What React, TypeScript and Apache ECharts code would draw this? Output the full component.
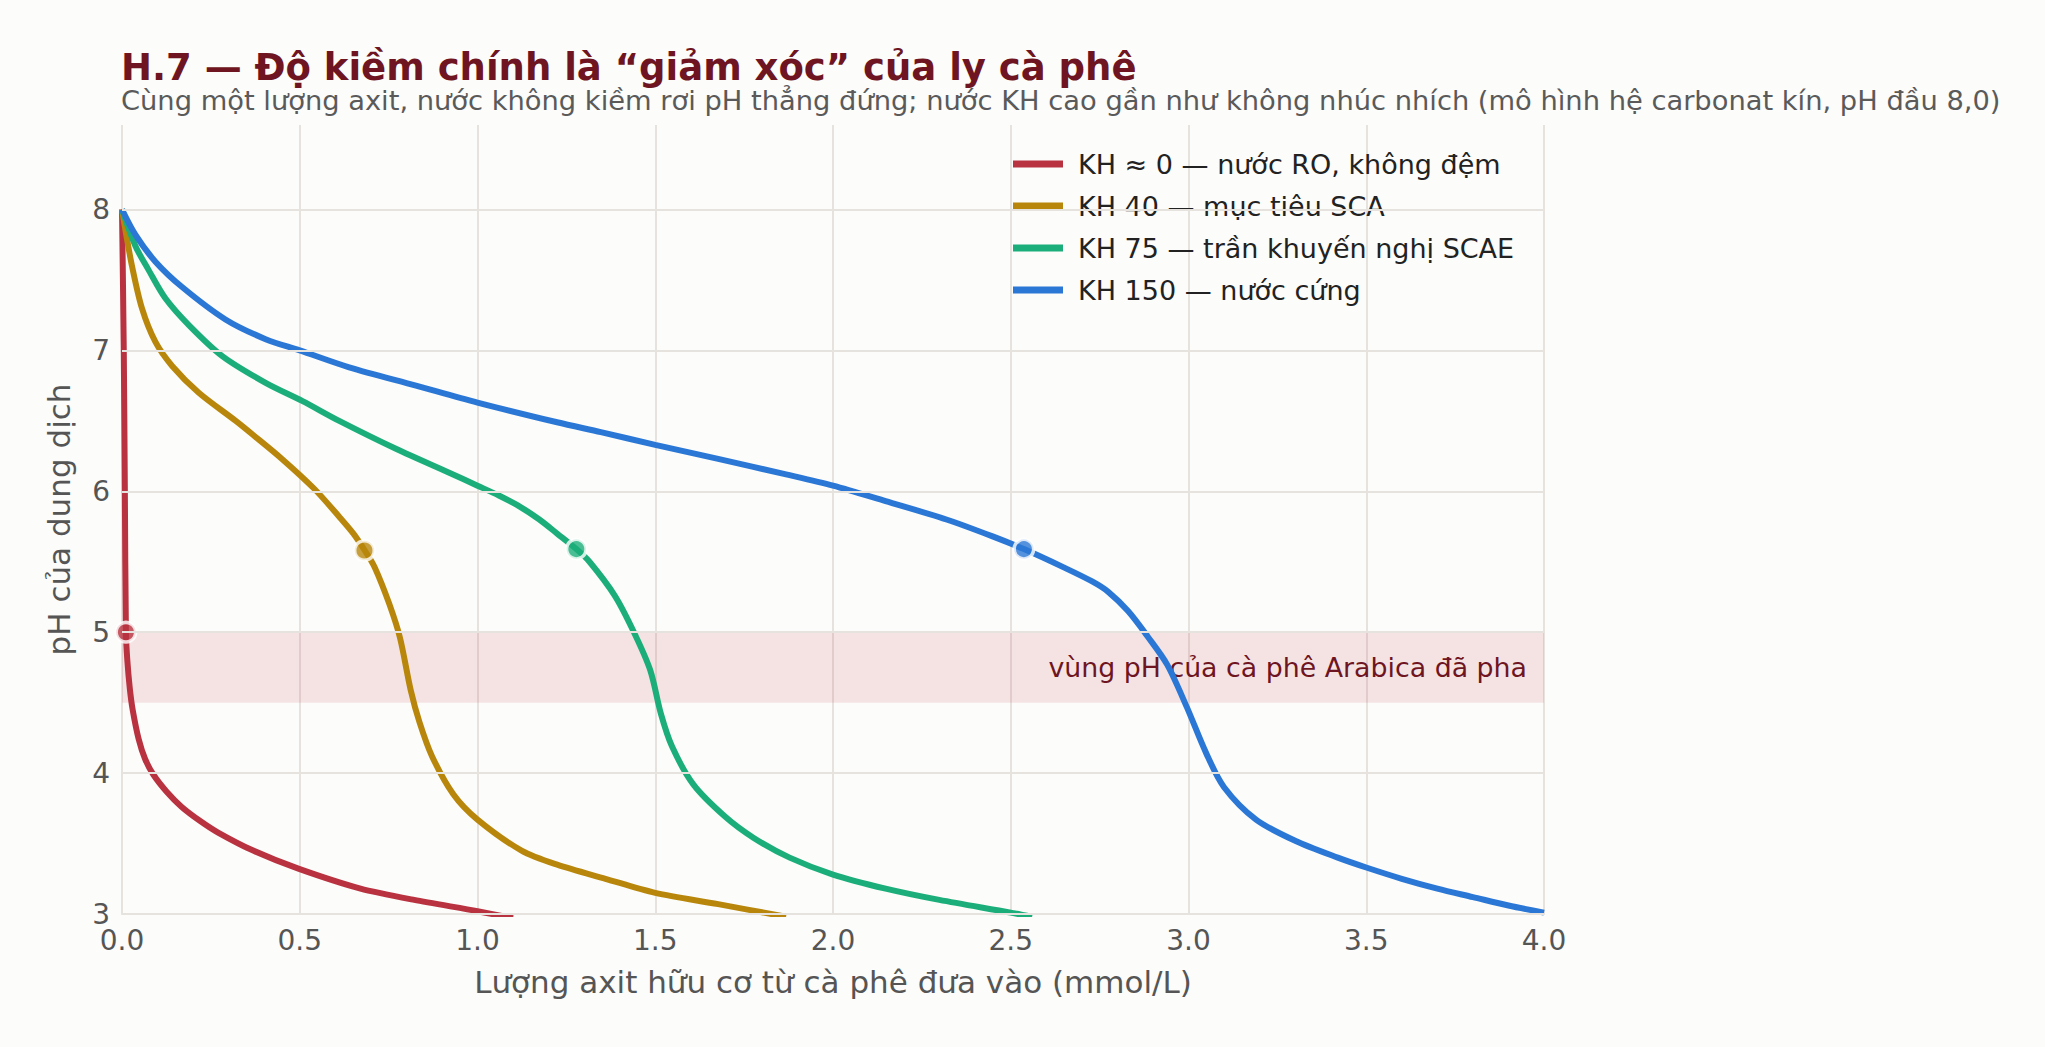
import React, { useEffect, useRef } from 'react';
import * as echarts from 'echarts';

// tên và màu bốn đường chuẩn độ
const seriesNames = [
  'KH ≈ 0 — nước RO, không đệm',
  'KH 40 — mục tiêu SCA',
  'KH 75 — trần khuyến nghị SCAE',
  'KH 150 — nước cứng',
];
const seriesColors = ['#B83240', '#B8860B', '#1BAE7B', '#2A77D6'];

// lượng axit (mmol/L) và pH
const roX = [0, 0.005, 0.008, 0.011, 0.015, 0.022, 0.03, 0.047, 0.065, 0.088, 0.125, 0.168, 0.22, 0.269, 0.369, 0.498, 0.671, 0.822, 1.0, 1.1];
const roPH = [8.0, 7.0, 6.0, 5.0, 4.8, 4.6, 4.45, 4.24, 4.1, 3.99, 3.87, 3.76, 3.66, 3.58, 3.45, 3.32, 3.18, 3.1, 3.02, 2.97];

const kh40X = [0, 0.012, 0.028, 0.056, 0.094, 0.141, 0.216, 0.32, 0.369, 0.45, 0.54, 0.611, 0.651, 0.683, 0.711, 0.752, 0.782, 0.812, 0.837, 0.872, 0.932, 1.0, 1.124, 1.224, 1.36, 1.5, 1.677, 1.868];
const kh40PH = [8.0, 7.82, 7.6, 7.3, 7.06, 6.89, 6.7, 6.5, 6.4, 6.23, 6.02, 5.82, 5.7, 5.58, 5.46, 5.2, 4.96, 4.59, 4.36, 4.12, 3.85, 3.67, 3.45, 3.35, 3.25, 3.15, 3.07, 2.98];

const kh75X = [0, 0.038, 0.075, 0.122, 0.188, 0.282, 0.404, 0.508, 0.611, 0.772, 0.922, 1.0, 1.06, 1.12, 1.174, 1.224, 1.278, 1.315, 1.386, 1.44, 1.486, 1.516, 1.547, 1.607, 1.697, 1.777, 1.878, 2.0, 2.148, 2.299, 2.5, 2.56];
const kh75PH = [8.0, 7.74, 7.57, 7.37, 7.18, 6.96, 6.77, 6.64, 6.5, 6.3, 6.13, 6.04, 5.97, 5.89, 5.8, 5.7, 5.59, 5.5, 5.26, 5.0, 4.73, 4.42, 4.19, 3.92, 3.69, 3.54, 3.4, 3.28, 3.18, 3.1, 3.01, 2.98];

const kh150X = [0, 0.038, 0.094, 0.169, 0.291, 0.404, 0.5, 0.639, 0.827, 1.0, 1.224, 1.347, 1.5, 1.677, 1.868, 2.0, 2.148, 2.319, 2.449, 2.537, 2.649, 2.729, 2.775, 2.83, 2.885, 2.94, 2.995, 3.05, 3.1, 3.19, 3.3, 3.42, 3.5, 3.6, 3.7, 3.8, 3.9, 4.0];
const kh150PH = [8.0, 7.82, 7.63, 7.45, 7.22, 7.08, 7.0, 6.88, 6.75, 6.63, 6.49, 6.42, 6.33, 6.23, 6.12, 6.04, 5.93, 5.8, 5.68, 5.59, 5.46, 5.36, 5.285, 5.15, 4.97, 4.77, 4.47, 4.14, 3.9, 3.67, 3.52, 3.4, 3.33, 3.25, 3.18, 3.12, 3.06, 3.01];

// điểm đánh dấu trên từng đường
const markerX = [0.011, 0.682, 1.278, 2.537];
const markerPH = [5.0, 5.58, 5.59, 5.59];

// trục
const phTicks = [3, 4, 5, 6, 7, 8];
const bandRange = [4.5, 5.0];
const bandLabel = 'vùng pH của cà phê Arabica đã pha';

const titleText = 'H.7 — Độ kiềm chính là “giảm xóc” của ly cà phê';
const subtitleText = 'Cùng một lượng axit, nước không kiềm rơi pH thẳng đứng; nước KH cao gần như không nhúc nhích (mô hình hệ carbonat kín, pH đầu 8,0)';

const FONT = '"DejaVu Sans", sans-serif';
const GRID = '#E6E2DD';

const App: React.FC = () => {
  const chartRef = useRef<HTMLDivElement>(null);

  useEffect(() => {
    if (!chartRef.current) return;
    const chart = echarts.init(chartRef.current, null, { renderer: 'svg' });

    const curves = [
      [roX, roPH],
      [kh40X, kh40PH],
      [kh75X, kh75PH],
      [kh150X, kh150PH],
    ];

    chart.setOption({
      animation: false,
      backgroundColor: '#FCFCFA',
      textStyle: { fontFamily: FONT },
      grid: { left: 122, right: 501, top: 125, bottom: 133 },
      graphic: [
        {
          type: 'text',
          x: 121,
          y: 67,
          style: {
            text: titleText,
            fontFamily: FONT,
            fontSize: 37,
            fontWeight: 'bold',
            fill: '#6E1521',
            verticalAlign: 'middle',
          },
        },
        {
          type: 'text',
          x: 121,
          y: 100,
          style: {
            text: subtitleText,
            fontFamily: FONT,
            fontSize: 27.3,
            fill: '#5A5A5A',
            verticalAlign: 'middle',
          },
        },
      ],
      legend: {
        data: seriesNames,
        orient: 'vertical',
        left: 1008,
        top: 145,
        icon: 'rect',
        itemWidth: 50,
        itemHeight: 7,
        itemGap: 14,
        selectedMode: false,
        textStyle: { fontFamily: FONT, fontSize: 27, color: '#222', lineHeight: 28, padding: [0, 0, 0, 10] },
      },
      xAxis: {
        type: 'value',
        min: 0,
        max: 4,
        interval: 0.5,
        name: 'Lượng axit hữu cơ từ cà phê đưa vào (mmol/L)',
        nameLocation: 'middle',
        nameGap: 52,
        nameTextStyle: { fontFamily: FONT, fontSize: 31, color: '#555' },
        axisLine: { show: true, lineStyle: { color: GRID, width: 2 } },
        axisTick: { show: false },
        axisLabel: { fontFamily: FONT, fontSize: 28, color: '#555', margin: 12, formatter: (v: number) => v.toFixed(1) },
        splitLine: { show: true, lineStyle: { color: GRID, width: 2 } },
      },
      yAxis: {
        type: 'value',
        min: 3,
        max: 8.6,
        interval: 1,
        name: 'pH của dung dịch',
        nameLocation: 'middle',
        nameGap: 48,
        nameTextStyle: { fontFamily: FONT, fontSize: 31, color: '#555' },
        axisLine: { show: false },
        axisTick: { show: false },
        axisLabel: { fontFamily: FONT, fontSize: 28, color: '#555', margin: 12, showMaxLabel: false },
        splitLine: { show: false },
      },
      series: [
        {
          type: 'line',
          data: [],
          z: 1,
          silent: true,
          markLine: {
            silent: true,
            symbol: ['none', 'none'],
            label: { show: false },
            lineStyle: { color: GRID, width: 2, type: 'solid' },
            data: phTicks.map((v) => ({ yAxis: v })),
          },
          markArea: {
            silent: true,
            itemStyle: { color: 'rgba(200, 60, 85, 0.13)' },
            label: {
              show: true,
              position: 'insideRight',
              offset: [-12, 0],
              fontFamily: FONT,
              fontSize: 26.8,
              color: '#6E1521',
            },
            data: [[{ yAxis: bandRange[0], name: bandLabel, xAxis: 0 }, { yAxis: bandRange[1], xAxis: 4 }]],
          },
        },
        ...curves.map(([xs, ps], i) => ({
          name: seriesNames[i],
          type: 'line',
          z: 3,
          showSymbol: false,
          smooth: i === 0 ? 0.25 : 0.3,
          color: seriesColors[i],
          lineStyle: { width: 6, color: seriesColors[i] },
          data: xs.map((x, j) => [x, ps[j]]),
        })),
        {
          type: 'scatter',
          z: 4,
          symbolSize: 19.5,
          data: markerX.map((x, i) => ({
            value: [x, markerPH[i]],
            itemStyle: { color: seriesColors[i], borderColor: '#FFFFFF', borderWidth: 3.5 },
          })),
        },
      ],
    });

    return () => chart.dispose();
  }, []);

  return (
    <div
      ref={chartRef}
      style={{ position: 'fixed', left: 0, top: 0, width: 2045, height: 1047, background: '#FCFCFA' }}
    />
  );
};

export default App;
